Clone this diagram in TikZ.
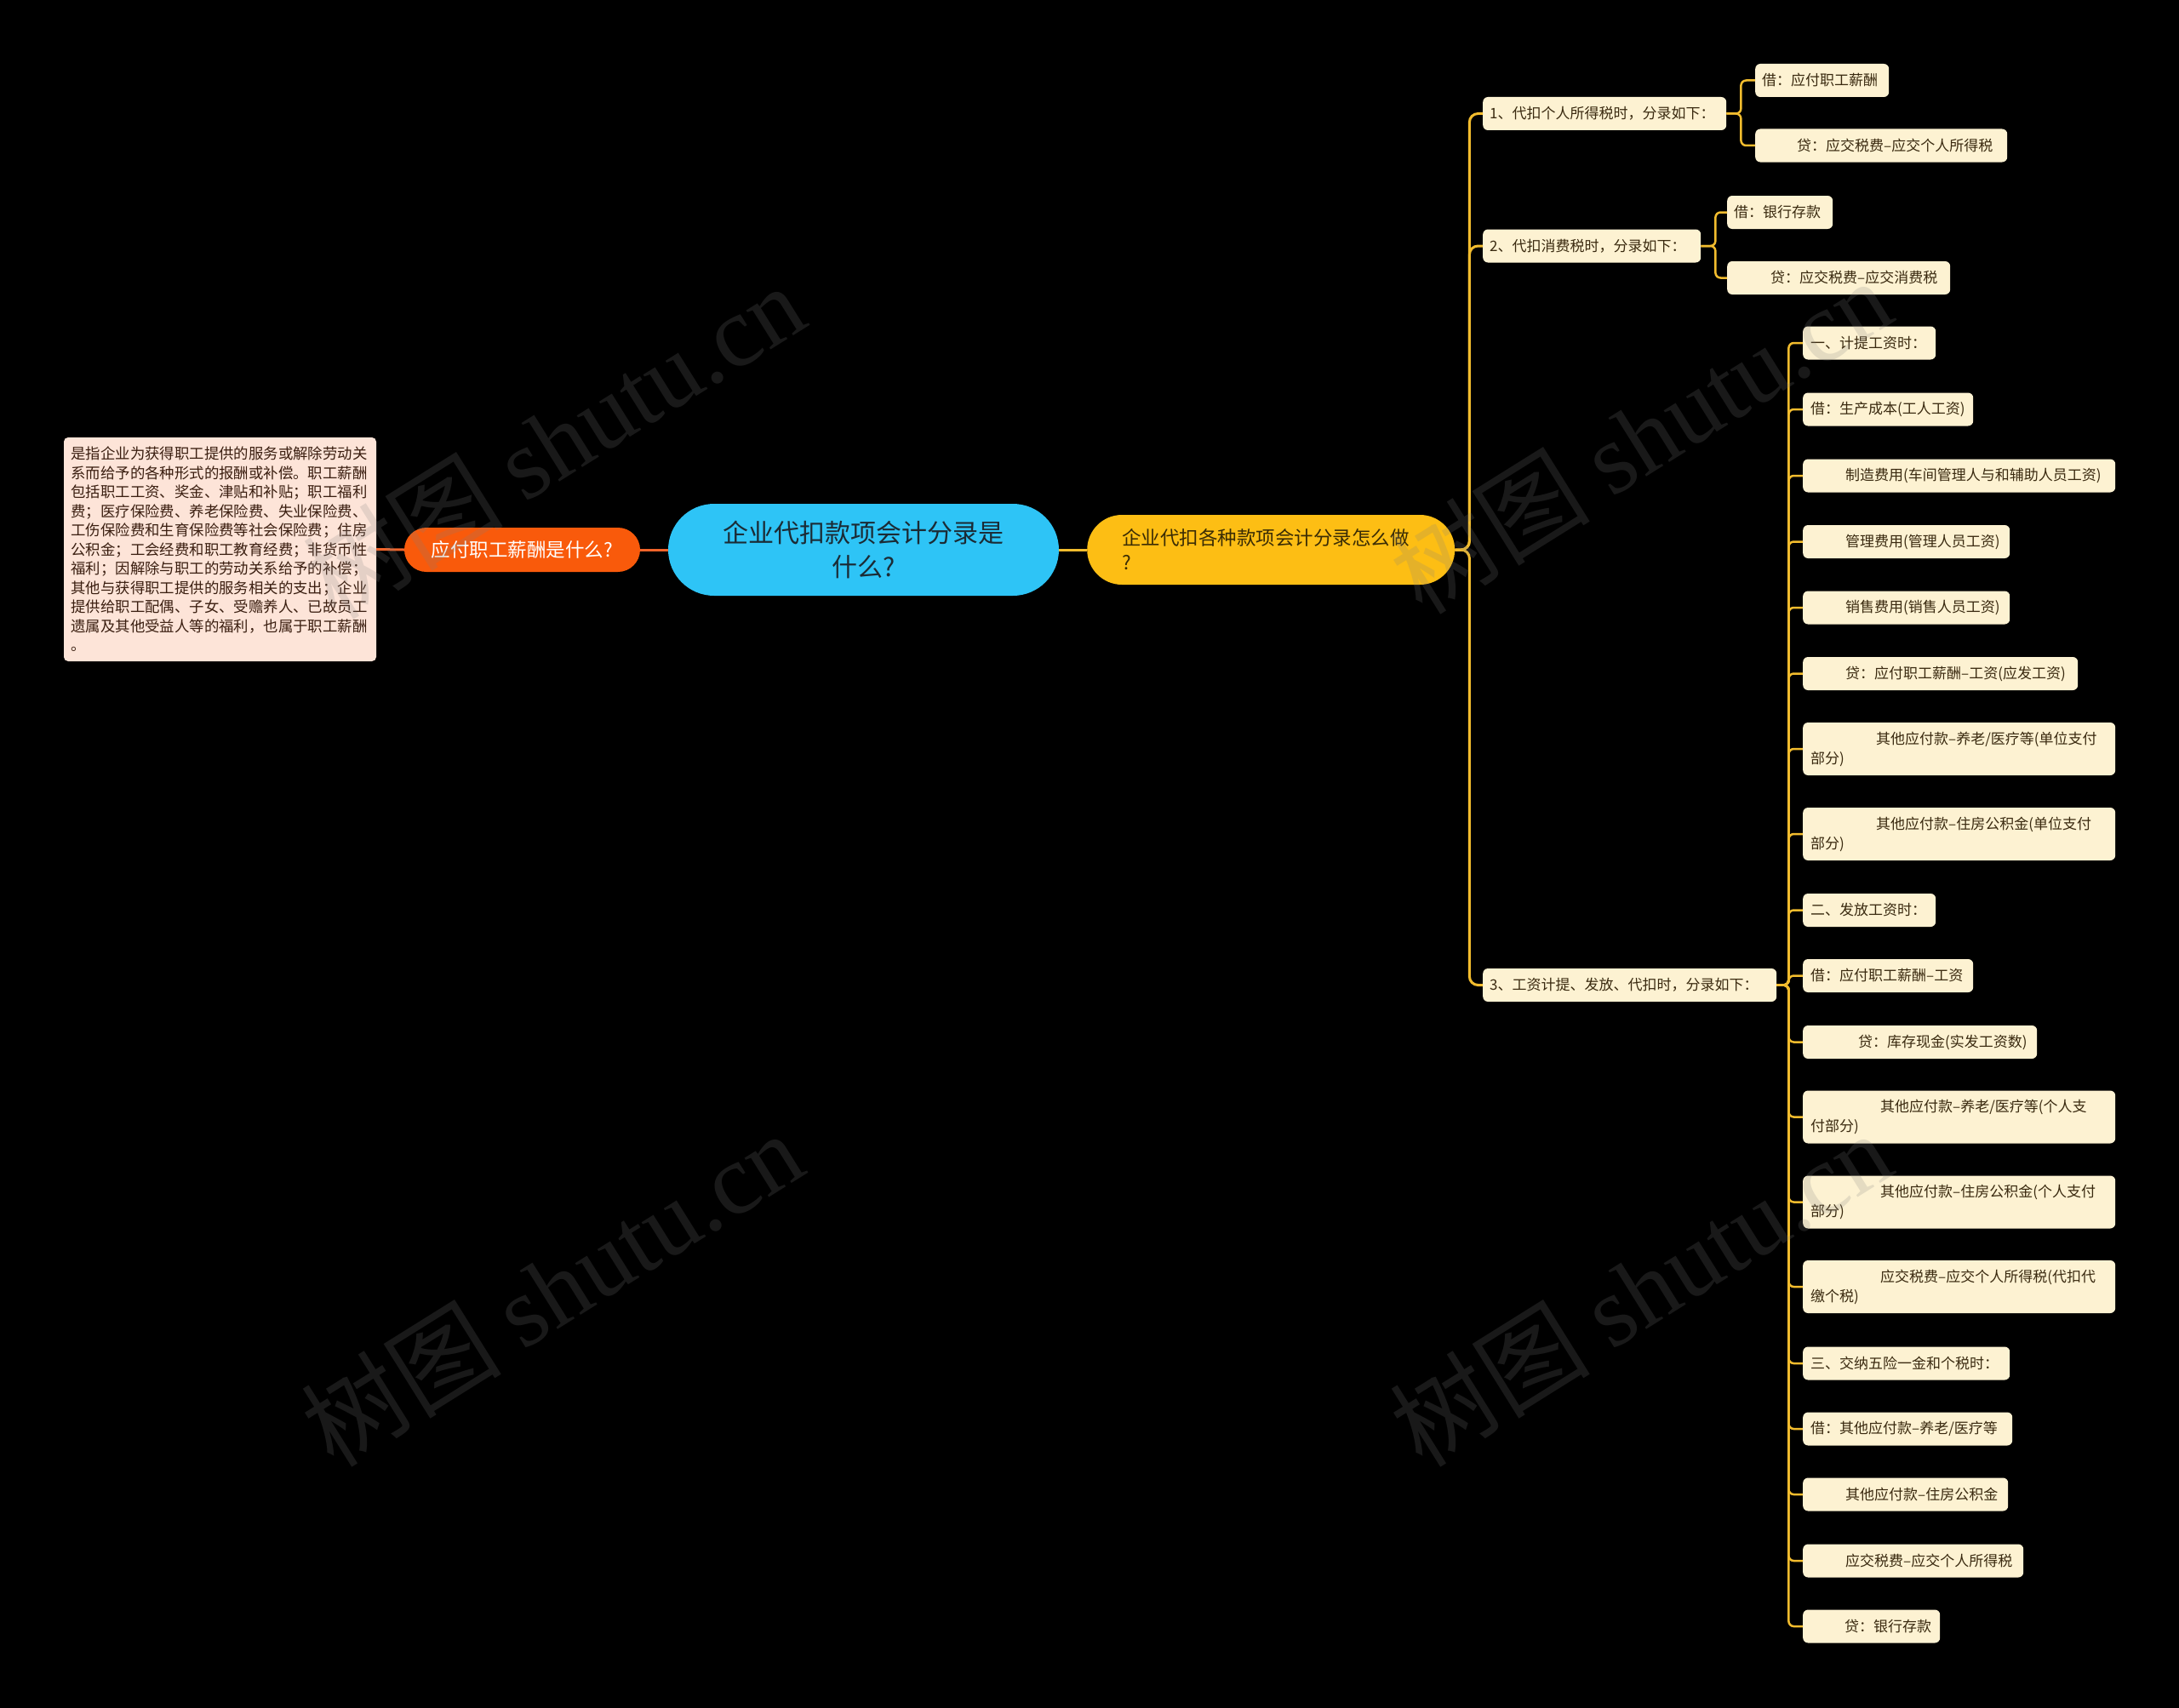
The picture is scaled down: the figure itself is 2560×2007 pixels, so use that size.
\documentclass[tikz,border=0pt]{standalone}
\usepackage{fontspec}
\setmainfont{Noto Sans CJK SC}
\newfontfamily\wmlatin{Liberation Serif}
\setlength\parindent{0pt}
\definecolor{cream}{HTML}{FDF2D2}
\definecolor{ink}{HTML}{3A2A10}
\definecolor{peach}{HTML}{FDE4D8}
\definecolor{peachink}{HTML}{3A1E10}
\definecolor{orangenode}{HTML}{F95A0B}
\definecolor{orangeline}{HTML}{F0642A}
\definecolor{bluenode}{HTML}{2EC4F6}
\definecolor{blueink}{HTML}{1B2B35}
\definecolor{yellownode}{HTML}{FDBE14}
\definecolor{yellowink}{HTML}{3A2C05}
\definecolor{yellowline}{HTML}{F2BC2E}
\tikzset{
  leaf/.style={fill=cream, text=ink, rounded corners=6pt, font=\fontsize{17}{23}\selectfont,
    inner xsep=9pt, inner ysep=0pt, minimum height=39pt, anchor=west, align=left},
  leafii/.style={leaf, minimum height=62pt},
  sub/.style={leaf, inner xsep=8pt},
  yline/.style={draw=yellowline, line width=3pt, rounded corners=10pt},
  ylinec/.style={draw=yellowline, line width=2.5pt, rounded corners=6pt},
  oline/.style={draw=orangeline, line width=3pt},
  wm/.style={text=gray, text opacity=0.2, font=\fontsize{118}{118}\selectfont, rotate=32, inner sep=0pt},
}
\begin{document}
\begin{tikzpicture}[x=1pt,y=-1pt]
\fill[black] (0,0) rectangle (2560,2007);
\useasboundingbox (0,0) rectangle (2560,2007);

% central and first level
\node[fill=bluenode, text=blueink, rounded corners=54pt, minimum width=459pt, minimum height=108pt,
  align=center, font=\fontsize{30}{40}\selectfont, inner sep=0pt] (root) at (1014.5,646) {企业代扣款项会计分录是\\什么?};
\node[fill=orangenode, text=white, rounded corners=26pt, minimum width=277pt, minimum height=52pt,
  font=\fontsize{22.5}{29}\selectfont, inner sep=0pt] (q) at (613.5,646) {应付职工薪酬是什么?};
\node[fill=peach, text=peachink, rounded corners=5pt, minimum height=263pt, text width=350pt,
  inner xsep=8.5pt, inner ysep=0pt, align=left, font=\fontsize{17.4}{22.5}\selectfont] (d) at (258.5,645.5)
  {是指企业为获得职工提供的服务或解除劳动关\\系而给予的各种形式的报酬或补偿。职工薪酬\\包括职工工资、奖金、津贴和补贴；职工福利\\费；医疗保险费、养老保险费、失业保险费、\\工伤保险费和生育保险费等社会保险费；住房\\公积金；工会经费和职工教育经费；非货币性\\福利；因解除与职工的劳动关系给予的补偿；\\其他与获得职工提供的服务相关的支出；企业\\提供给职工配偶、子女、受赡养人、已故员工\\遗属及其他受益人等的福利，也属于职工薪酬\\。};
\node[fill=yellownode, text=yellowink, rounded corners=41pt, minimum height=82pt, text width=350pt,
  inner xsep=41pt, inner ysep=0pt, align=left, anchor=west, font=\fontsize{22.5}{29}\selectfont] (y) at (1277,646)
  {企业代扣各种款项会计分录怎么做\\?};

% second level
\node[sub, text width=270pt] (n1) at (1742,133.5) {1、代扣个人所得税时，分录如下：};
\node[sub, text width=240pt] (n2) at (1742,289) {2、代扣消费税时，分录如下：};
\node[sub, text width=329pt] (n3) at (1742,1157.5) {3、工资计提、发放、代扣时，分录如下：};

% third level under 1 and 2
\node[sub, text width=141pt] (a1) at (2062,94.5) {借：应付职工薪酬};
\node[sub, text width=280pt] (a2) at (2062,171) {\hspace*{41pt}贷：应交税费–应交个人所得税};
\node[sub, text width=108pt] (b1) at (2029,249.5) {借：银行存款};
\node[sub, text width=246pt] (b2) at (2029,326.5) {\hspace*{43pt}贷：应交税费–应交消费税};

% third level under 3
\node[leaf, text width=138pt] (c1) at (2118,403) {一、计提工资时：};
\node[leaf, text width=182pt] (c2) at (2118,481) {借：生产成本(工人工资)};
\node[leaf, text width=349pt] (c3) at (2118,559) {\hspace*{41pt}制造费用(车间管理人与和辅助人员工资)};
\node[leaf, text width=225pt] (c4) at (2118,636.5) {\hspace*{41pt}管理费用(管理人员工资)};
\node[leaf, text width=225pt] (c5) at (2118,714) {\hspace*{41pt}销售费用(销售人员工资)};
\node[leaf, text width=305pt] (c6) at (2118,791.5) {\hspace*{41pt}贷：应付职工薪酬–工资(应发工资)};
\node[leafii, text width=349pt] (c7) at (2118,880) {\hspace*{77pt}其他应付款–养老/医疗等(单位支付\\部分)};
\node[leafii, text width=349pt] (c8) at (2118,980) {\hspace*{77pt}其他应付款–住房公积金(单位支付\\部分)};
\node[leaf, text width=138pt] (c9) at (2118,1069.5) {二、发放工资时：};
\node[leaf, text width=182pt] (c10) at (2118,1146.5) {借：应付职工薪酬–工资};
\node[leaf, text width=257pt] (c11) at (2118,1224.5) {\hspace*{56pt}贷：库存现金(实发工资数)};
\node[leafii, text width=349pt] (c12) at (2118,1312.5) {\hspace*{82pt}其他应付款–养老/医疗等(个人支\\付部分)};
\node[leafii, text width=349pt] (c13) at (2118,1412.5) {\hspace*{82pt}其他应付款–住房公积金(个人支付\\部分)};
\node[leafii, text width=349pt] (c14) at (2118,1512) {\hspace*{82pt}应交税费–应交个人所得税(代扣代\\缴个税)};
\node[leaf, text width=225pt] (c15) at (2118,1602) {三、交纳五险一金和个税时：};
\node[leaf, text width=228pt] (c16) at (2118,1679) {借：其他应付款–养老/医疗等};
\node[leaf, text width=223pt] (c17) at (2118,1756) {\hspace*{41pt}其他应付款–住房公积金};
\node[leaf, text width=241pt] (c18) at (2118,1834) {\hspace*{41pt}应交税费–应交个人所得税};
\node[leaf, text width=143pt] (c19) at (2118,1911) {\hspace*{40pt}贷：银行存款};

% connectors
\draw[oline] (root.west) -- (q.east);
\draw[oline] (q.west) -- (d.east);
\draw[yline] (root.east) -- (y.west);
\foreach \t in {n1,n2,n3} \draw[yline] (y.east) -- ++(17pt,0) |- (\t.west);
\foreach \t in {a1,a2} \draw[ylinec] (n1.east) -- ++(17pt,0) |- (\t.west);
\foreach \t in {b1,b2} \draw[ylinec] (n2.east) -- ++(17pt,0) |- (\t.west);
\foreach \t in {c1,c2,c3,c4,c5,c6,c7,c8,c9,c10,c11,c12,c13,c14,c15,c16,c17,c18,c19}
  \draw[ylinec] (n3.east) -- ++(14pt,0) |- (\t.west);

% watermarks
\node[wm] (w1) at (650,518) {树图 {\wmlatin shutu.cn}};
\node[wm] (w2) at (1927,512) {树图 {\wmlatin shutu.cn}};
\node[wm] (w3) at (648,1514) {树图 {\wmlatin shutu.cn}};
\node[wm] (w4) at (1927,1514) {树图 {\wmlatin shutu.cn}};
\end{tikzpicture}
\end{document}
